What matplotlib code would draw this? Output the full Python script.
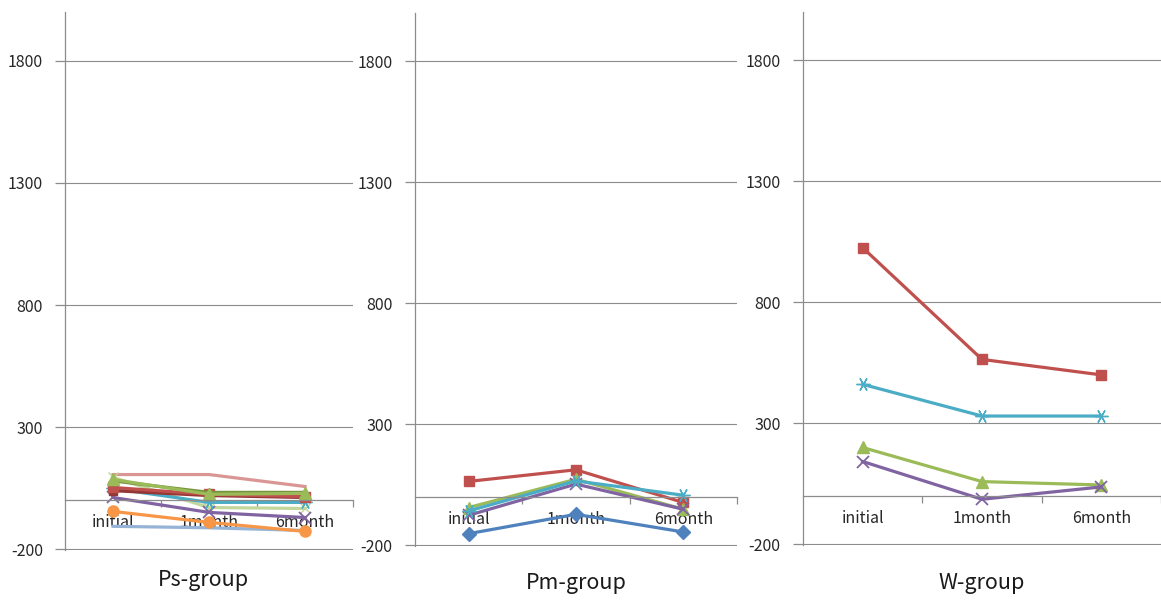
import matplotlib.pyplot as plt
from matplotlib.transforms import blended_transform_factory

plt.rcParams['font.family'] = ['Noto Sans CJK KR', 'DejaVu Sans']
plt.rcParams['axes.unicode_minus'] = False

# ── Data ──────────────────────────────────────────────────────
categories = ['initial', '1month', '6month']
y_ticks = [-200, 300, 800, 1300, 1800]

# Ps-group
ps_rose = [106, 106, 57]
ps_palegreen = [94, -29, -33]
ps_paleblue = [-106, -112, -123]
ps_orange = [-45, -90, -127]
ps_purple = [12, -49, -70]
ps_aqua = [49, -8, -8]
ps_darkred = [40, 20, 12]
ps_red = [53, 25, 16]
ps_darkgreen = [80, 33, 33]
ps_green = [86, 25, 29]

# Pm-group
pm_blue = [-152, -72, -145]
pm_red = [64, 112, -23]
pm_green = [-44, 73, -51]
pm_purple = [-76, 53, -51]
pm_aqua = [-58, 66, 7]

# W-group
w_red = [1026, 564, 500]
w_aqua = [461, 330, 330]
w_green = [200, 59, 45]
w_purple = [142, -14, 37]

# ── Styles (Office 2007 palette) ──────────────────────────────
STAR = (6, 2, 90)
STYLE = {
    'blue':      dict(color='#4F81BD', marker='D', ms=7),
    'red':       dict(color='#C0504D', marker='s', ms=7.5),
    'green':     dict(color='#9BBB59', marker='^', ms=8),
    'purple':    dict(color='#8064A2', marker='x', ms=8, mew=1.3),
    'aqua':      dict(color='#4BACC6', marker=STAR, ms=10, mew=1.0),
    'orange':    dict(color='#F79646', marker='o', ms=8),
    'darkred':   dict(color='#953735', marker='s', ms=6),
    'darkgreen': dict(color='#77933C', marker='^', ms=6),
    'paleblue':  dict(color='#95B3D7', marker=None, ms=0),
    'palegreen': dict(color='#C3D69B', marker='x', ms=7, mew=1.0),
    'rose':      dict(color='#D99694', marker=None, ms=0),
}

groups = [
    ('Ps-group', [0.0560, 0.0894, 0.2481, 0.8907],
     [('rose', ps_rose), ('palegreen', ps_palegreen), ('paleblue', ps_paleblue),
      ('orange', ps_orange), ('purple', ps_purple), ('aqua', ps_aqua),
      ('darkred', ps_darkred), ('red', ps_red), ('darkgreen', ps_darkgreen),
      ('green', ps_green)], 0.040, -0.02),
    ('Pm-group', [0.3574, 0.0960, 0.2773, 0.8825],
     [('blue', pm_blue), ('red', pm_red), ('green', pm_green),
      ('purple', pm_purple), ('aqua', pm_aqua)], 0.035, 0.0),
    ('W-group', [0.6916, 0.0977, 0.3084, 0.8825],
     [('red', w_red), ('aqua', w_aqua), ('green', w_green),
      ('purple', w_purple)], 0.035, 0.0),
]

GRID = '#8C8C8C'

fig = plt.figure(figsize=(11.61, 6.04), dpi=100)

for title, rect, series, title_y, title_dx in groups:
    ax = fig.add_axes(rect)
    x = range(len(categories))
    for name, values in series:
        st = STYLE[name]
        ax.plot(x, values, color=st['color'], linewidth=2.3,
                marker=st['marker'], markersize=st['ms'],
                markeredgewidth=st.get('mew', 1.0),
                markerfacecolor=st['color'], markeredgecolor=st['color'])

    ax.set_xlim(-0.5, len(categories) - 0.5)
    ax.set_ylim(-203, 2000)
    ax.set_yticks(y_ticks)
    ax.yaxis.grid(True, color=GRID, linewidth=0.8)
    ax.set_axisbelow(True)

    for side in ('top', 'right'):
        ax.spines[side].set_visible(False)
    ax.spines['left'].set_color(GRID)
    ax.spines['left'].set_linewidth(0.9)
    ax.spines['bottom'].set_position(('data', 0))
    ax.spines['bottom'].set_color(GRID)
    ax.spines['bottom'].set_linewidth(0.9)

    # category boundaries carry the tick marks, labels sit at the centres
    ax.set_xticks([0.5, 1.5, 2.5])
    ax.set_xticklabels([])
    ax.set_xticks(list(x), minor=True)
    ax.set_xticklabels(categories, minor=True)
    ax.tick_params(axis='x', which='major', direction='out', length=5,
                   color=GRID, width=0.9)
    ax.tick_params(axis='x', which='minor', length=0, pad=10,
                   labelsize=11.5, labelcolor='#262626')
    ax.tick_params(axis='y', direction='out', length=7, color=GRID,
                   width=0.9, pad=9, labelsize=11.5, labelcolor='#262626')

    trans = blended_transform_factory(ax.transAxes, fig.transFigure)
    ax.text(0.5 + title_dx, title_y, title, transform=trans, ha='center',
            va='center', fontsize=15.5, color='#1a1a1a')

fig.savefig('out.png', dpi=100)
